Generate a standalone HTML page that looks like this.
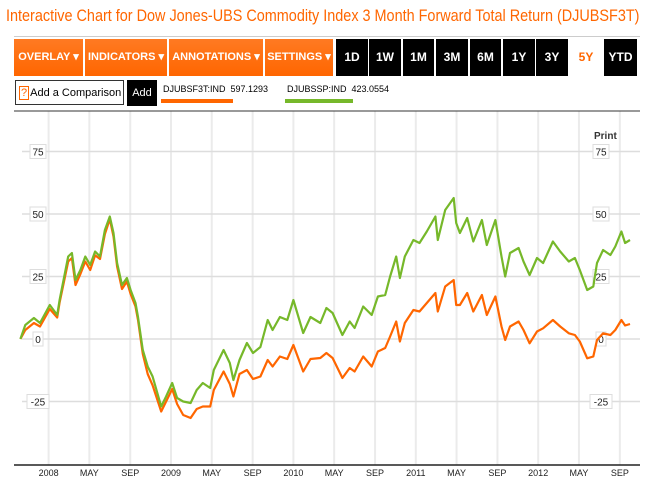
<!DOCTYPE html>
<html><head><meta charset="utf-8"><style>
body{margin:0;width:646px;height:478px;background:#fff;font-family:"Liberation Sans",sans-serif;overflow:hidden;position:relative}
.t{position:absolute;left:6px;top:6px;font-size:17px;color:#f60;white-space:nowrap;transform:scaleX(0.848);transform-origin:0 0}
.hr{position:absolute;left:14px;width:626px;top:36px;height:1px;background:#ccc}
.b{position:absolute;top:39px;height:37px;line-height:37px;color:#fff;font-weight:bold;font-size:11px;text-align:center;white-space:nowrap;overflow:hidden}
.o{background:linear-gradient(#ff7a22,#f60)}
.k{background:#000;font-size:12px}
.cmp{position:absolute;left:15px;top:80px;width:109px;height:25px;border:1px solid #333;font-size:11px;line-height:24px;box-sizing:border-box;white-space:nowrap;overflow:hidden}
</style></head><body>
<div class="t">Interactive Chart for Dow Jones-UBS Commodity Index 3 Month Forward Total Return (DJUBSF3T)</div>
<div class="hr"></div>
<div class="b o" style="left:14px;width:69px">OVERLAY ▾</div>
<div class="b o" style="left:85px;width:82px">INDICATORS ▾</div>
<div class="b o" style="left:169px;width:94px">ANNOTATIONS ▾</div>
<div class="b o" style="left:265px;width:68px">SETTINGS ▾</div>
<div class="b k" style="left:336px;width:32px">1D</div>
<div class="b k" style="left:369px;width:32px">1W</div>
<div class="b k" style="left:403px;width:31px">1M</div>
<div class="b k" style="left:436px;width:32px">3M</div>
<div class="b k" style="left:470px;width:31px">6M</div>
<div class="b k" style="left:503px;width:32px">1Y</div>
<div class="b k" style="left:536px;width:32px">3Y</div>
<div class="b" style="left:570px;width:32px;color:#f60;font-size:12px">5Y</div>
<div class="b k" style="left:604px;width:33px">YTD</div>
<div class="cmp"><span style="color:#f60;border:1px solid #f60;padding:0 1px;margin:0 1px 0 3px">?</span>Add a Comparison</div>
<div style="position:absolute;left:127px;top:80px;width:30px;height:26px;background:#000;color:#fff;font-size:11px;line-height:26px;text-align:center">Add</div>
<div style="position:absolute;left:163px;top:84px;font-size:9px;white-space:nowrap">DJUBSF3T:IND&nbsp;&nbsp;597.1293</div>
<div style="position:absolute;left:161px;top:99px;width:72px;height:4px;background:#f60"></div>
<div style="position:absolute;left:287px;top:84px;font-size:9px;white-space:nowrap">DJUBSSP:IND&nbsp;&nbsp;423.0554</div>
<div style="position:absolute;left:285px;top:99px;width:68px;height:4px;background:#76b82a"></div>
<svg id="c" width="646" height="478" style="position:absolute;left:0;top:0"></svg>
<script>
const years=[2007.77,2007.81,2007.88,2007.93,2008.01,2008.07,2008.09,2008.16,2008.19,2008.22,2008.26,2008.30,2008.34,2008.38,2008.42,2008.46,2008.50,2008.53,2008.56,2008.60,2008.64,2008.67,2008.71,2008.73,2008.77,2008.81,2008.85,2008.92,2008.96,2009.01,2009.05,2009.10,2009.16,2009.21,2009.26,2009.32,2009.35,2009.43,2009.48,2009.51,2009.56,2009.62,2009.67,2009.73,2009.79,2009.83,2009.89,2009.95,2010.00,2010.08,2010.14,2010.22,2010.27,2010.32,2010.40,2010.46,2010.50,2010.57,2010.64,2010.69,2010.75,2010.79,2010.84,2010.87,2010.91,2010.98,2011.03,2011.09,2011.16,2011.18,2011.24,2011.31,2011.33,2011.36,2011.42,2011.47,2011.54,2011.58,2011.65,2011.70,2011.73,2011.77,2011.84,2011.88,2011.93,2011.99,2012.04,2012.12,2012.18,2012.25,2012.30,2012.34,2012.40,2012.45,2012.48,2012.53,2012.59,2012.63,2012.68,2012.71,2012.75];
const green=[0,5.6,8.4,6.4,13.6,9.6,15.6,33,34.4,23.6,27.6,33,29.6,35,33,43.6,49,42.4,30.4,21.6,24.4,19.6,14.4,8.8,-4.4,-11,-15,-27,-23,-17.6,-23.6,-25,-25.6,-20.4,-17.6,-19.6,-12.4,-4.4,-9.6,-16.4,-8.4,-1.6,-5.6,-3.2,7.6,3.6,8.8,7.6,15.6,2.4,8.8,6.4,12.4,10.4,1.6,7,4.4,13,9.6,17,17.6,25,33,24.4,33,39.6,38.4,43,49,39.6,51.6,56.4,46.4,42.4,48.4,39,47.6,37.6,47.6,33,25,34.4,36.4,31,25.6,32.4,30.4,39,35,31,32.4,27.6,19.6,21,30.4,35.6,33.6,37,43,38.4,39.6];
const orange=[0,3.6,6.4,5,12,8.6,14.6,31,32.4,21.6,26,31,27.6,33.5,32,42,48,41,29,20,23,18,13,7.6,-6,-14,-18.5,-29,-25,-20,-26,-30.4,-31.6,-28,-27,-27,-20.4,-13,-18,-23,-14,-12.4,-16,-15,-8.4,-11,-7,-8,-2.4,-13,-8,-7.6,-5.6,-7.6,-15.6,-11.6,-13,-7,-11,-5,-3.6,1,7,-1,6.4,11.6,11,14.4,18.4,11,21,23.6,13.6,13.6,18.4,11,17.6,9.6,17,5,-0.4,5,7,3.6,-1.7,3,4.3,7.6,5,2.3,1.6,-1,-7.7,-7,-0.4,2.3,1.6,3.6,7.6,5.4,6];
const yTicks=[75,50,25,0,-25];
const xTickLabels=["2008","MAY","SEP","2009","MAY","SEP","2010","MAY","SEP","2011","MAY","SEP","2012","MAY","SEP"];
const xTickYears=[2008,2008.333,2008.667,2009,2009.333,2009.667,2010,2010.333,2010.667,2011,2011.333,2011.667,2012,2012.333,2012.667];
const X=y=>48.6+(y-2008)*122.4;
const Y=v=>339-v*2.5;
const svg=document.getElementById('c'),NS='http://www.w3.org/2000/svg';
function mk(t,a,p){const e=document.createElementNS(NS,t);for(const k in a)e.setAttribute(k,a[k]);(p||svg).appendChild(e);return e;}
xTickYears.forEach((yr,i)=>{
 const g=mk('line',{x1:X(yr),x2:X(yr),y1:111,y2:465,stroke:'#ebebeb','stroke-width':2});
 
 
 const t=mk('text',{x:X(yr),y:476,'text-anchor':'middle','font-size':9,fill:'#222','font-family':'Liberation Sans, sans-serif'});
 t.textContent=xTickLabels[i];
 
 
});
yTicks.forEach(v=>{
 const l=mk('line',{x1:22,x2:640,y1:Y(v),y2:Y(v),stroke:'#ddd','stroke-width':1.5});
 
 
 [38,601].forEach(cx=>{
  const w=String(v).length*6+4;
  mk('rect',{x:cx-w/2,y:Y(v)-7,width:w,height:14,fill:'#fff',stroke:'#ddd'});
  const t=mk('text',{x:cx,y:Y(v)+4,'text-anchor':'middle','font-size':10,fill:'#222','font-family':'Liberation Sans, sans-serif'});
  t.textContent=v;
  
  
 });
});
mk('line',{x1:14,x2:640,y1:111,y2:111,stroke:'#333','stroke-width':1});
mk('line',{x1:14,x2:640,y1:465,y2:465,stroke:'#222','stroke-width':1.5});
const pr=mk('text',{x:594,y:139,'font-size':10,'font-weight':'bold',fill:'#333','font-family':'Liberation Sans, sans-serif'});
pr.textContent='Print';


function line(vals,col,name){
 const d=vals.map((v,i)=>(i?'L':'M')+X(years[i]).toFixed(1)+' '+Y(v).toFixed(1)).join(' ');
 const p=mk('path',{d:d,fill:'none',stroke:col,'stroke-width':2.2,'stroke-linejoin':'round'});
 
 
}
line(orange,'#f60','series-djubsf3t');
line(green,'#76b82a','series-djubssp');
</script>
</body></html>
